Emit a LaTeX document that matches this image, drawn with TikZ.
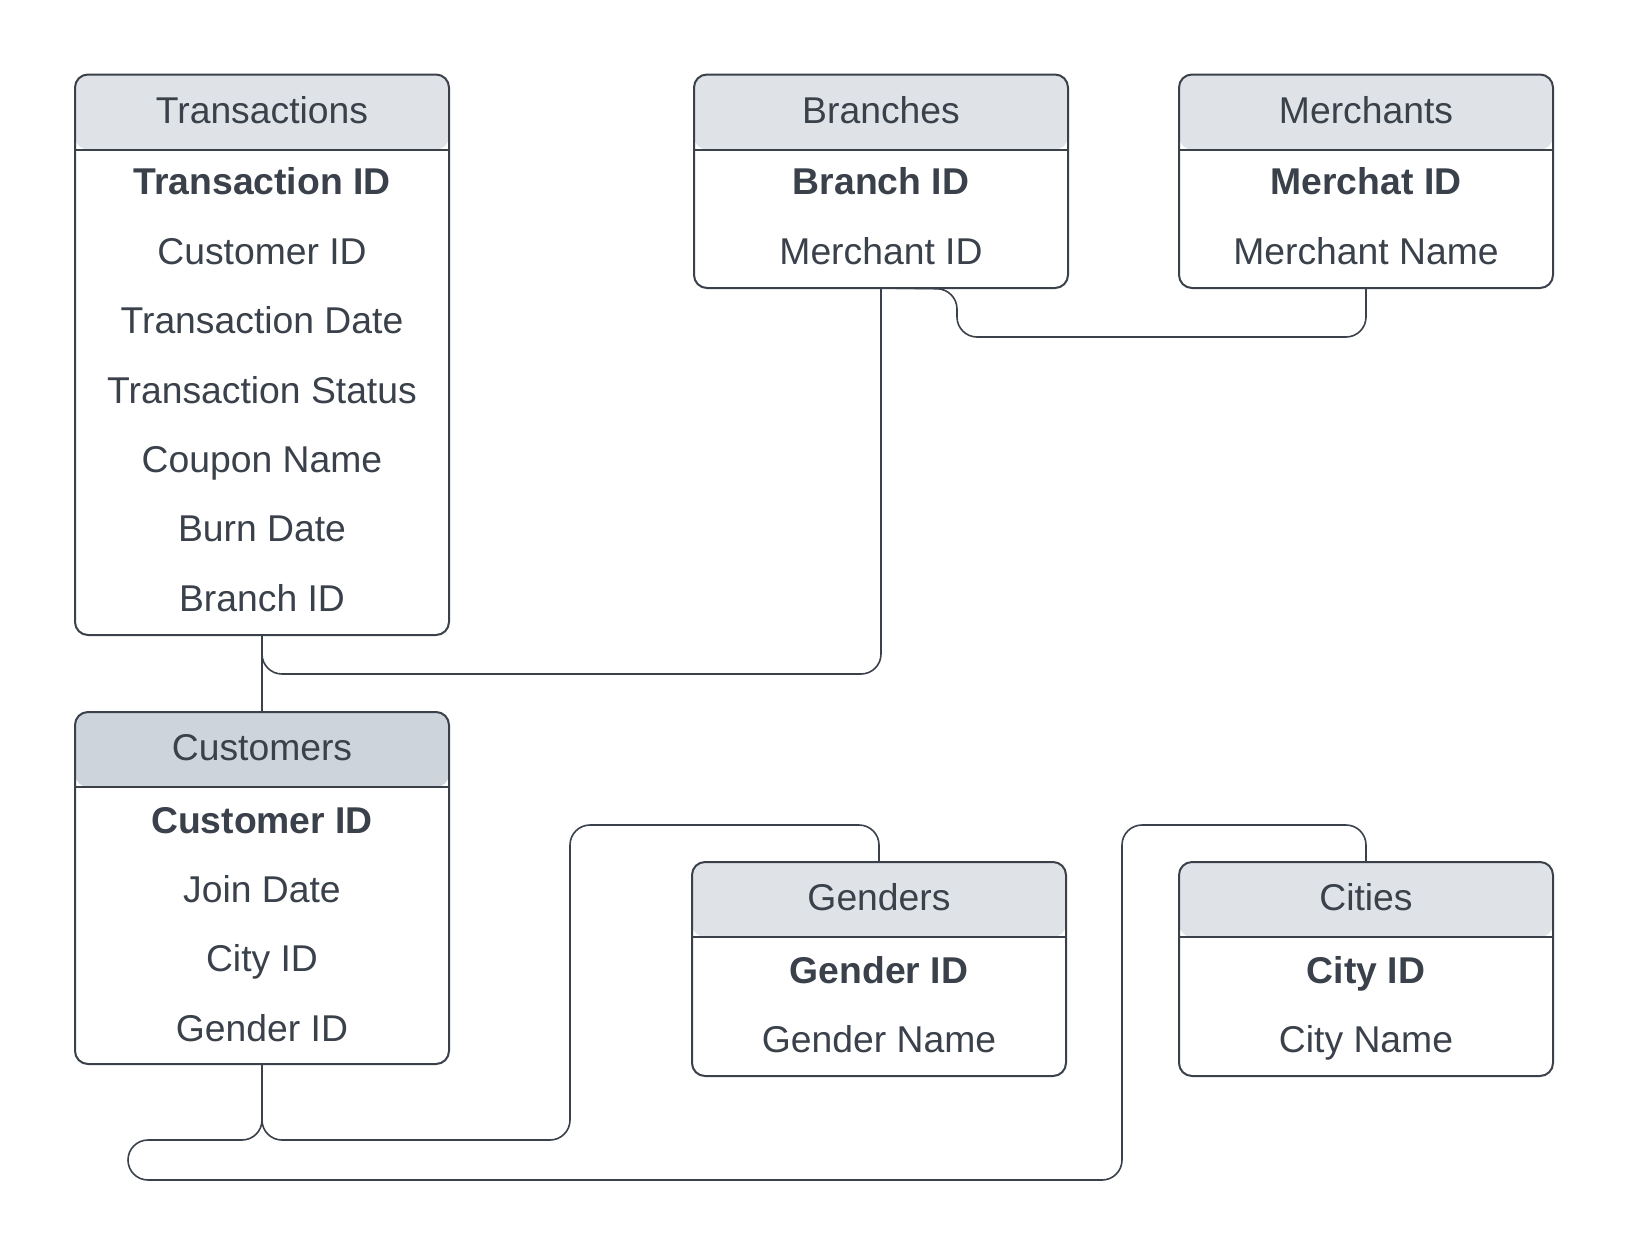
\documentclass[tikz,border=0pt]{standalone}
\usepackage{fontspec}
\setmainfont{Liberation Sans}
\usetikzlibrary{calc}
\definecolor{ink}{HTML}{3A414A}
\definecolor{hdrA}{HTML}{DFE3E8}
\definecolor{hdrB}{HTML}{CDD4DC}
\tikzset{
  erbox/.style={draw=ink, line width=2pt, rounded corners=13pt, fill=white,
    inner sep=0pt, outer sep=0pt,
    path picture={\fill[#1] (path picture bounding box.north west) rectangle ([yshift=-75pt]path picture bounding box.north east);
      \draw[ink, line width=2pt] ([yshift=-75pt]path picture bounding box.north west) -- ([yshift=-75pt]path picture bounding box.north east);}},
  lbl/.style={anchor=base, inner sep=0pt, text=ink, font=\fontsize{37.3}{44}\selectfont},
  key/.style={lbl, font=\fontsize{37.3}{44}\selectfont\bfseries},
  link/.style={draw=ink, line width=1.6pt, rounded corners=20pt},
}
\begin{document}
\begin{tikzpicture}[x=1pt, y=-1pt]
\useasboundingbox (0,0) rectangle (1629,1256);

% tables
\node[erbox=hdrA, minimum width=374pt, minimum height=560.5pt] (trans) at (262,354.75) {};
\node[erbox=hdrA, minimum width=374pt, minimum height=213.5pt] (branch) at (881,181.25) {};
\node[erbox=hdrA, minimum width=374pt, minimum height=213.5pt] (merch) at (1366,181.25) {};
\node[erbox=hdrB, minimum width=374pt, minimum height=352pt] (cust) at (262,888) {};
\node[erbox=hdrA, minimum width=374pt, minimum height=214pt] (gend) at (879,969) {};
\node[erbox=hdrA, minimum width=374pt, minimum height=214pt] (city) at (1366,969) {};

% Transactions
\node[lbl] (trans-h) at (262,123) {Transactions};
\node[key] (trans-1) at (262,194.8) {Transaction ID};
\node[lbl] (trans-2) at (262,264.2) {Customer ID};
\node[lbl] (trans-3) at (262,333.6) {Transaction Date};
\node[lbl] (trans-4) at (262,403) {Transaction Status};
\node[lbl] (trans-5) at (262,472.4) {Coupon Name};
\node[lbl] (trans-6) at (262,541.8) {Burn Date};
\node[lbl] (trans-7) at (262,611.2) {Branch ID};

% Branches
\node[lbl] (branch-h) at (881,123) {Branches};
\node[key] (branch-1) at (881,194.8) {Branch ID};
\node[lbl] (branch-2) at (881,264.2) {Merchant ID};

% Merchants
\node[lbl] (merch-h) at (1366,123) {Merchants};
\node[key] (merch-1) at (1366,194.8) {Merchat ID};
\node[lbl] (merch-2) at (1366,264.2) {Merchant Name};

% Customers
\node[lbl] (cust-h) at (262,760) {Customers};
\node[key] (cust-1) at (262,833) {Customer ID};
\node[lbl] (cust-2) at (262,902.4) {Join Date};
\node[lbl] (cust-3) at (262,971.8) {City ID};
\node[lbl] (cust-4) at (262,1041.2) {Gender ID};

% Genders
\node[lbl] (gend-h) at (879,910.6) {Genders};
\node[key] (gend-1) at (879,983.3) {Gender ID};
\node[lbl] (gend-2) at (879,1052) {Gender Name};

% Cities
\node[lbl] (city-h) at (1366,910.6) {Cities};
\node[key] (city-1) at (1366,983.3) {City ID};
\node[lbl] (city-2) at (1366,1052) {City Name};

% connectors
\draw[link] (trans.south) -- (cust.north);
\draw[link] (trans.south) -- ++(0,39) -| (branch.south);
\draw[link] (branch.south) -- ++(76,1) -- ++(0,48) -| (merch.south);
\draw[link] (cust.south) -- ++(0,76) -- ++(308,0) |- ($(gend.north)+(0,-37)$) -- (gend.north);
\draw[link] (cust.south) -- ++(0,76) -- ++(-134,0) -- ++(0,40) -- ++(994,0) |- ($(city.north)+(0,-37)$) -- (city.north);
\end{tikzpicture}
\end{document}
